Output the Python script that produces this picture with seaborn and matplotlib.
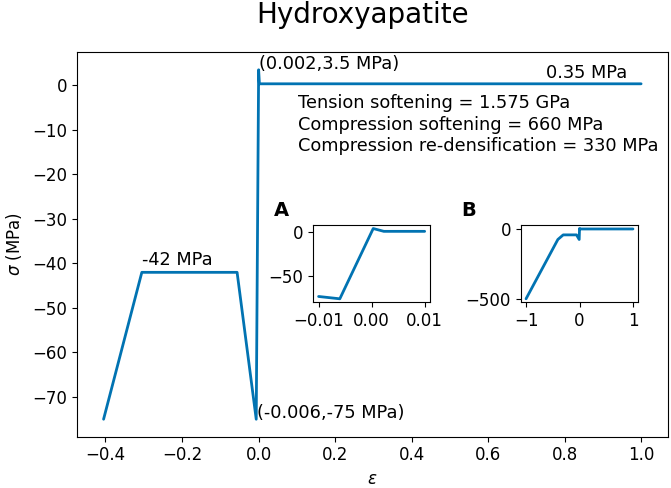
import matplotlib
matplotlib.use("Agg")
import matplotlib.pyplot as plt
import pandas as pd
import seaborn as sns

# stress-strain curve, main view
strain = [-0.405, -0.305, -0.056, -0.006, 0.0003, 0.0023, 1.0]
stress = [-75, -42, -42, -75, 3.5, 0.35, 0.35]

# inset A: close-up around the tension peak
strain_a = [-0.01, -0.006, 0.0003, 0.0023, 0.01]
stress_a = [-72.4, -75, 3.5, 0.35, 0.35]

# inset B: whole compression range
strain_b = [-1.0, -0.405, -0.305, -0.056, -0.006, 0.0003, 0.0023, 1.0]
stress_b = [-500, -75, -42, -42, -75, 3.5, 0.35, 0.35]

sns.set_style("ticks")
plt.rcParams.update({
    "font.family": ["DejaVu Sans"],
    "font.size": 12,
    "axes.edgecolor": "black",
    "xtick.color": "black",
    "ytick.color": "black",
    "axes.labelcolor": "black",
    "text.color": "black",
})

line_color = "#0173B2"
note_size = 12.75

df = pd.DataFrame({"strain": strain, "stress": stress})
df_a = pd.DataFrame({"strain": strain_a, "stress": stress_a})
df_b = pd.DataFrame({"strain": strain_b, "stress": stress_b})

fig = plt.figure(figsize=(6.71, 4.88), dpi=100)
ax = fig.add_axes([0.1143, 0.1051, 0.8812, 0.7877])
sns.lineplot(data=df, x="strain", y="stress", sort=False, estimator=None,
             color=line_color, linewidth=2, ax=ax)
ax.set_xlabel(r"$\varepsilon$", fontsize=12)
ax.set_ylabel(r"$\sigma$ (MPa)", fontsize=12, labelpad=6)
ax.tick_params(labelsize=12)

ax.text(0.0, 4.9, "(0.002,3.5 MPa)", ha="left", va="center", fontsize=note_size)
ax.text(0.752, 0.8, "0.35 MPa", ha="left", va="bottom", fontsize=note_size)
ax.text(-0.305, -41.2, "-42 MPa", ha="left", va="bottom", fontsize=note_size)
ax.text(-0.004, -73.7, "(-0.006,-75 MPa)", ha="left", va="center", fontsize=note_size)
ax.text(0.102, -2.0,
        "Tension softening = 1.575 GPa\n"
        "Compression softening = 660 MPa\n"
        "Compression re-densification = 330 MPa",
        ha="left", va="top", fontsize=note_size, linespacing=1.25)

fig.text(0.540, 0.952, "Hydroxyapatite", ha="center", va="baseline", fontsize=20)

# inset A
ax_a = fig.add_axes([0.4669, 0.3805, 0.1739, 0.1584])
sns.lineplot(data=df_a, x="strain", y="stress", sort=False, estimator=None,
             color=line_color, linewidth=2, ax=ax_a)
ax_a.set_xticks([-0.01, 0.0, 0.01])
ax_a.set_xticklabels(["\u22120.01", "0.00", "0.01"])
ax_a.set_yticks([-50, 0])
ax_a.set_xlabel("")
ax_a.set_ylabel("")
ax_a.tick_params(labelsize=12)
fig.text(0.408, 0.557, "A", fontsize=14, fontweight="bold", va="baseline")

# inset B
ax_b = fig.add_axes([0.776, 0.3805, 0.1753, 0.1584])
sns.lineplot(data=df_b, x="strain", y="stress", sort=False, estimator=None,
             color=line_color, linewidth=2, ax=ax_b)
ax_b.set_xticks([-1, 0, 1])
ax_b.set_yticks([-500, 0])
ax_b.set_xlabel("")
ax_b.set_ylabel("")
ax_b.tick_params(labelsize=12)
fig.text(0.688, 0.557, "B", fontsize=14, fontweight="bold", va="baseline")

fig.savefig("out.png", dpi=100)
